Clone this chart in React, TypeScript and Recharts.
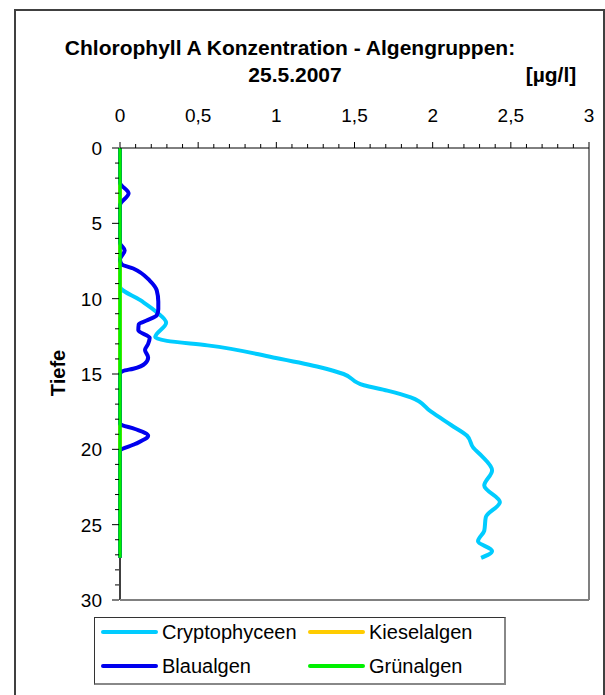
import React from 'react';
import { LineChart, Line, XAxis, YAxis, ReferenceLine } from 'recharts';

// ---- data ----
const seriesNames = ['Cryptophyceen', 'Kieselalgen', 'Blaualgen', 'Grünalgen'];

const cryptoDepth = [0, 9.2, 10.1, 10.9, 11.6, 12.55, 12.8, 13.1, 13.9, 14.55, 15.0, 15.75, 16.1, 16.55, 17.5, 18.4, 19.1, 19.9, 20.4, 21.4, 22.4, 23.5, 24.5, 25.4, 26.1, 26.75, 27.2];
const cryptoValue = [0, 0, 0.13, 0.235, 0.295, 0.225, 0.3, 0.56, 0.98, 1.28, 1.43, 1.56, 1.71, 1.86, 1.99, 2.12, 2.22, 2.26, 2.31, 2.38, 2.33, 2.43, 2.34, 2.33, 2.29, 2.38, 2.31];

const kieselDepth = [0, 27.2];
const kieselValue = [0, 0];

const blauDepth = [0, 2.3, 3.0, 3.8, 6.3, 6.8, 7.4, 7.7, 8.0, 8.8, 9.45, 10.2, 10.7, 11.1, 11.45, 11.7, 12.1, 12.6, 13.0, 13.4, 13.9, 14.3, 14.65, 14.8, 15.0, 18.3, 18.65, 19.1, 19.65, 20.1, 27.2];
const blauValue = [0, 0, 0.055, 0, 0, 0.03, 0, 0.01, 0.085, 0.19, 0.235, 0.245, 0.245, 0.235, 0.17, 0.12, 0.117, 0.19, 0.18, 0.16, 0.18, 0.16, 0.085, 0.02, 0, 0, 0.096, 0.18, 0.096, 0, 0];

const gruenDepth = [0, 27.2];
const gruenValue = [0, 0];

const xTicks = [0, 0.1, 0.2, 0.3, 0.4, 0.5, 0.6, 0.7, 0.8, 0.9, 1, 1.1, 1.2, 1.3, 1.4, 1.5, 1.6, 1.7, 1.8, 1.9, 2, 2.1, 2.2, 2.3, 2.4, 2.5, 2.6, 2.7, 2.8, 2.9, 3];
const yTicks = [0, 1, 2, 3, 4, 5, 6, 7, 8, 9, 10, 11, 12, 13, 14, 15, 16, 17, 18, 19, 20, 21, 22, 23, 24, 25, 26, 27, 28, 29, 30];

const titleLine1 = 'Chlorophyll A Konzentration - Algengruppen:';
const titleLine2 = '25.5.2007';
const unitLabel = '[µg/l]';
const yLabel = 'Tiefe';

// ---- build ----
const build = (d: number[], v: number[]) => d.map((depth, i) => ({ depth, value: v[i] }));
const series = [
  { name: seriesNames[0], data: build(cryptoDepth, cryptoValue), color: '#00CCFF', width: 4 },
  { name: seriesNames[1], data: build(kieselDepth, kieselValue), color: '#FFCC00', width: 4 },
  { name: seriesNames[2], data: build(blauDepth, blauValue), color: '#0000EE', width: 4 },
  { name: seriesNames[3], data: build(gruenDepth, gruenValue), color: '#00F000', width: 3.5 },
];
const greenEnd = gruenDepth[gruenDepth.length - 1];

const FONT = '"Liberation Sans", Arial, sans-serif';

const XTick = (props: any) => {
  const { x, y, payload } = props;
  const v = payload.value as number;
  const major = Math.abs(v * 2 - Math.round(v * 2)) < 1e-6;
  return (
    <g>
      <line x1={x} x2={x} y1={y - (major ? 6 : 4)} y2={y} stroke="#000" strokeWidth={1} />
      {major && (
        <text x={x} y={y - 26} textAnchor="middle" fontSize={19} fontFamily={FONT} fill="#000">
          {String(v).replace('.', ',')}
        </text>
      )}
    </g>
  );
};

const YTick = (props: any) => {
  const { x, y, payload } = props;
  const v = payload.value as number;
  const major = v % 5 === 0;
  return (
    <g>
      <line x1={x - (major ? 8 : 5)} x2={x - 1} y1={y} y2={y} stroke="#000" strokeWidth={1} />
      {major && (
        <text x={x - 18} y={y + 7} textAnchor="end" fontSize={19} fontFamily={FONT} fill="#000">
          {v}
        </text>
      )}
    </g>
  );
};

const legendItems = [
  { i: 0, left: 101, top: 632 },
  { i: 1, left: 308, top: 632 },
  { i: 2, left: 101, top: 666 },
  { i: 3, left: 308, top: 666 },
];

export default function App() {
  return (
    <div style={{ position: 'absolute', left: 0, top: 0, width: 605, height: 695, overflow: 'hidden', background: '#fff' }}>
      <div style={{ position: 'absolute', left: 14, top: 9, width: 591, height: 700, boxSizing: 'border-box', border: '2px solid #404040' }} />
      <div style={{ position: 'absolute', left: 0, top: 0 }}>
        <LineChart width={605} height={695} layout="vertical" margin={{ top: 108, right: 16, bottom: 95, left: 60 }}>
          <XAxis
            type="number"
            orientation="top"
            domain={[0, 3]}
            ticks={xTicks}
            interval={0}
            height={40}
            tickSize={0}
            tickMargin={0}
            tickLine={false}
            tick={<XTick />}
            axisLine={{ stroke: '#000', strokeWidth: 1 }}
          />
          <YAxis
            type="number"
            dataKey="depth"
            domain={[0, 30]}
            ticks={yTicks}
            interval={0}
            width={60}
            tickSize={0}
            tickMargin={0}
            tickLine={false}
            tick={<YTick />}
            axisLine={false}
          />
          <ReferenceLine segment={[{ x: 0, y: greenEnd }, { x: 0, y: 30 }]} stroke="#000" strokeWidth={1.5} />
          <ReferenceLine x={3} stroke="#808080" strokeWidth={2} />
          <ReferenceLine y={30} stroke="#808080" strokeWidth={2} />
          {series.map((s) => (
            <Line
              key={s.name}
              data={s.data}
              dataKey="value"
              name={s.name}
              type="monotone"
              stroke={s.color}
              strokeWidth={s.width}
              dot={false}
              activeDot={false}
              isAnimationActive={false}
            />
          ))}
        </LineChart>
      </div>
      <svg width={605} height={695} style={{ position: 'absolute', left: 0, top: 0, pointerEvents: 'none' }}>
        <text x={290} y={55} textAnchor="middle" fontSize={21} fontWeight="bold" fontFamily={FONT}>{titleLine1}</text>
        <text x={295} y={82} textAnchor="middle" fontSize={21} fontWeight="bold" fontFamily={FONT}>{titleLine2}</text>
        <text x={551} y={82} textAnchor="middle" fontSize={21} fontWeight="bold" fontFamily={FONT}>{unitLabel}</text>
        <text x={0} y={0} transform="translate(58,373) rotate(-90)" textAnchor="middle" dominantBaseline="central" fontSize={20} fontWeight="bold" fontFamily={FONT}>{yLabel}</text>
      </svg>
      <div style={{ position: 'absolute', left: 94, top: 617, width: 412, height: 68, boxSizing: 'border-box', border: '1px solid #333', borderBottom: '2px solid #888', borderRight: '2px solid #888', background: '#fff' }} />
      {legendItems.map((it) => (
        <div key={it.i} style={{ position: 'absolute', left: it.left, top: it.top - 12, height: 24, display: 'flex', alignItems: 'center', fontFamily: FONT, fontSize: 20, color: '#000', whiteSpace: 'nowrap' }}>
          <div style={{ width: 57, height: 4, borderRadius: 2, background: series[it.i].color, marginRight: 4 }} />
          <span>{series[it.i].name}</span>
        </div>
      ))}
    </div>
  );
}
